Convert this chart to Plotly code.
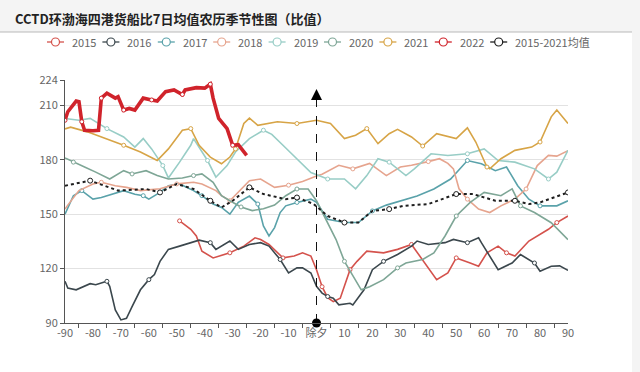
import plotly.graph_objects as go

# ---------------- data (lunar-day offset vs. ratio) ----------------
TITLE = "CCTD环渤海四港货船比7日均值农历季节性图（比值）"
SERIES_NAMES = ["2015", "2016", "2017", "2018", "2019", "2020", "2021", "2022", "2015-2021均值"]

x2015 = [-49, -45, -43, -41, -37, -31, -26, -22, -20, -17, -12, -8, -5, -2, 0, 2, 4, 6, 8.5, 10, 12, 14.5,
         18, 24, 29, 34, 37, 41, 43, 47, 50, 55, 58, 61, 65, 68, 71, 76, 80, 83, 86, 90]
y2015 = [146.3, 141.7, 138, 129.6, 125.9, 128.7, 132.4, 137, 136, 133.3, 125.9, 126.9, 128.7, 126.9, 119.4,
         110, 104, 101.8, 103.7, 110.2, 119.4, 124, 129.6, 128.7, 130.6, 133.3, 126.9, 118.5, 113.9, 117.6,
         125.9, 123.1, 121.3, 128.7, 132.4, 128.7, 126.9, 135.2, 138.9, 141.7, 145.4, 149]

x2016 = [-90, -89, -86, -81, -79, -75, -74, -72, -70, -68, -66, -63, -60, -58, -56, -53, -49, -45, -42, -38,
         -36, -31, -28, -24, -20, -17, -13, -10, -7, -5, -2, 0, 2, 4, 6, 8, 12, 13, 17, 20, 24, 29, 34, 36,
         40, 46, 49, 54, 58, 59, 62, 65, 70, 73, 78, 80, 84, 87, 90]
y2016 = [113, 109.3, 108.3, 111.7, 111.1, 113, 110.2, 97.2, 91.7, 92.6, 99, 108.3, 113.9, 116.7, 124, 130.6,
         132.4, 134.3, 135.7, 134.3, 130.6, 135.2, 130.6, 133.3, 134.3, 132.4, 125, 117.6, 120.4, 120.4,
         117.6, 110.2, 106.5, 104.6, 103.7, 100, 100.9, 100, 108.3, 119.4, 124, 127.8, 132.4, 135.2, 133.3,
         134.3, 136.1, 134.3, 137, 134.3, 126.9, 119.4, 123.1, 127.8, 123.1, 118.5, 121.3, 121.5, 119]

x2017 = [-90, -87, -84, -80, -77, -73, -69, -65, -62, -60, -56, -53, -49, -44, -41, -37, -34, -31, -28, -24,
         -21, -19, -17, -15, -13, -11, -7, -2, 0, 4, 10, 15, 20, 25, 30, 36, 42, 48, 54, 59, 64, 68, 72, 76,
         80, 86, 90]
y2017 = [150, 160.2, 163, 158.3, 159.2, 161.1, 163, 161, 160.2, 158.3, 162, 165.7, 166.7, 163, 160.2, 155.6,
         153.7, 150, 156.5, 160, 155.6, 143.5, 138, 142.6, 150.9, 154.6, 156.5, 158.3, 156.5, 147.2, 145.4,
         145.4, 151.8, 155, 157.4, 160, 163.9, 169.4, 179.6, 177.8, 174, 176, 165.7, 158.3, 154.6, 154.6, 157.4]

x2018 = [-90, -89, -85, -80, -77, -72, -68, -63, -56, -50, -44, -41, -36, -34, -31, -27, -24, -20, -15, -10,
         -5, 0, 2, 8, 13, 19, 25, 30, 34, 40, 44, 47, 49, 51, 54, 58, 62, 66, 71, 75, 79, 83, 86, 90]
y2018 = [152.8, 155, 163, 166.7, 167.6, 165.7, 164.8, 163, 164, 166.7, 167.6, 166.7, 163, 160.2, 157.4, 164,
         168.5, 169.4, 164.8, 166, 168, 171, 172, 177, 175, 178, 171.3, 176, 177, 179, 180.6, 178, 175, 164,
         158.3, 152.8, 150.9, 154.6, 158.3, 163.9, 176.8, 182.4, 182, 185]

x2019 = [-90, -85, -81, -75, -69, -65, -62, -59, -55, -53, -49, -45, -44, -39, -36, -32, -29, -24, -19, -16,
         -12, -7, -2, 4, 10, 14, 18, 22, 26, 32, 35, 41, 47, 54, 60, 65, 71, 78, 83, 86, 90]
y2019 = [202.8, 201.8, 202.8, 197.2, 192.6, 187, 191.7, 186, 176.8, 170, 178.7, 188, 191.7, 179.6, 170.4,
         176.8, 184.3, 191.7, 196.3, 194, 188, 180.6, 173, 169.4, 169.4, 164, 171.3, 180.6, 178.7, 171.3, 175,
         183.3, 182.4, 183.3, 186, 179.6, 178.7, 175, 169.4, 173.2, 185.2]

x2020 = [-90, -87, -83, -79, -74, -69, -66, -61, -57, -53, -48, -44, -41, -37, -34, -31, -27, -23, -19, -15,
         -11, -7, -3, 0, 4, 7, 10, 13, 16, 19, 24, 29, 32, 38, 42, 46, 50, 55, 60, 66, 70, 73, 78, 84, 90]
y2020 = [181, 178.7, 176, 173.2, 169.4, 174, 172.2, 174, 171.3, 169.4, 170, 171.3, 172.2, 167.6, 160.2, 157.4,
         154, 152, 153, 155, 160.2, 163.9, 163.9, 157.4, 145.4, 136, 124, 116, 108.3, 110, 113.9, 120.4,
         123.1, 125, 128.7, 138, 149, 156.5, 162, 160.2, 164, 154.6, 150.9, 145.3, 136]

x2021 = [-90, -88, -82, -77, -69, -63, -57, -53, -48, -45, -42, -38, -34, -31, -29, -26, -24, -21, -14, -7, 0,
         5, 10, 14, 18, 22, 26, 29, 34, 38, 43, 50, 54, 57, 61, 62, 66, 71, 77, 80, 84, 86, 90]
y2021 = [197, 198, 195.4, 192.6, 188, 184.3, 179.6, 186, 196.3, 197.2, 188, 181.5, 177.8, 181.5, 186, 200,
         203, 199, 201, 200, 201.8, 200, 191.7, 193.5, 197.2, 188.9, 194.4, 196.8, 192.6, 187.6, 194.4, 191.7,
         197.6, 189.8, 176, 175, 180.6, 185.2, 187, 189.8, 203.7, 207.4, 200]

x2022 = [-90, -89, -86, -85, -84, -83, -80, -78, -77, -75, -72, -71, -69, -67, -65, -62, -59, -57, -54, -51,
         -48, -47, -43, -40, -38, -37, -35, -32, -30, -28, -25]
y2022 = [201.8, 206.5, 212.4, 212, 201, 196.3, 196, 196.3, 214, 216.7, 214, 214.8, 207.4, 208.3, 207.4, 214,
         213, 212.4, 217.6, 218.5, 216, 218.5, 219.8, 219.5, 221.7, 214, 202.8, 197.2, 188, 188.3, 182.4]

x_avg = [-90, -81, -71, -61, -56, -50, -44, -38, -34, -30, -24, -19, -11, -7, -1, 4, 10, 15, 20, 26, 31, 40,
         50, 56, 64, 71, 76, 80, 90]
y_avg = [165.7, 168.5, 163, 163.9, 162, 166.7, 163.9, 157.4, 153.7, 157.4, 164.8, 161.1, 158.3, 159.2, 155.6,
         149, 145.4, 145.4, 151.8, 152.8, 154.6, 155.6, 161.1, 161.1, 157.4, 157.4, 155.6, 156.5, 162]

x_tickvals = list(range(-90, 100, 10))
x_ticktext = ["除夕" if v == 0 else str(v) for v in x_tickvals]
y_tickvals = [90, 120, 150, 180, 210, 224]
SPRING_FESTIVAL = 0
ARROW_BOTTOM = 90
ARROW_TOP = 219

# ---------------- style ----------------
W, H = 640, 372
L, R, T, B = 65, 72, 80, 49
PW, PH = W - L - R, H - T - B
FONT = "Noto Sans CJK SC, Noto Sans, sans-serif"

colors = {
    "2015": "#d4524c", "2016": "#3b474d", "2017": "#5aa2aa", "2018": "#e6a48e", "2019": "#98cdc6",
    "2020": "#7ea696", "2021": "#d7a446", "2022": "#d0232b", "2015-2021均值": "#1e1e1e",
}

def px_x(p):
    return (p - L) / PW

def px_y(p):
    return (H - B - p) / PH

fig = go.Figure()

data = [
    ("2015", x2015, y2015), ("2016", x2016, y2016), ("2017", x2017, y2017), ("2018", x2018, y2018),
    ("2019", x2019, y2019), ("2020", x2020, y2020), ("2021", x2021, y2021),
]
for name, xs, ys in data:
    fig.add_trace(go.Scatter(
        x=xs, y=ys, name=name, mode="lines+markers", showlegend=False,
        line=dict(color=colors[name], width=1.6),
        marker=dict(symbol="circle", size=4, color="white", maxdisplayed=9,
                    line=dict(color=colors[name], width=1)),
    ))

fig.add_trace(go.Scatter(
    x=x_avg, y=y_avg, name="2015-2021均值", mode="lines+markers", showlegend=False,
    line=dict(color=colors["2015-2021均值"], width=2, dash="dot"),
    marker=dict(symbol="circle", size=5, color="white", maxdisplayed=12,
                line=dict(color=colors["2015-2021均值"], width=1)),
))

fig.add_trace(go.Scatter(
    x=x2022, y=y2022, name="2022", mode="lines+markers", showlegend=False,
    line=dict(color=colors["2022"], width=3.6),
    marker=dict(symbol="circle", size=4, color="white", maxdisplayed=8,
                line=dict(color=colors["2022"], width=1)),
))

# spring-festival arrow
fig.add_trace(go.Scatter(
    x=[SPRING_FESTIVAL, SPRING_FESTIVAL], y=[ARROW_BOTTOM, ARROW_TOP - 2], mode="lines",
    line=dict(color="#111", width=1, dash="dash"), showlegend=False, hoverinfo="skip",
))
fig.add_trace(go.Scatter(
    x=[SPRING_FESTIVAL], y=[ARROW_BOTTOM], mode="markers", showlegend=False, hoverinfo="skip",
    marker=dict(symbol="circle", size=9, color="#000"), cliponaxis=False,
))
fig.add_trace(go.Scatter(
    x=[SPRING_FESTIVAL], y=[ARROW_TOP], mode="markers", showlegend=False, hoverinfo="skip",
    marker=dict(symbol="arrow-up", size=11, color="#000"), cliponaxis=False,
))

shapes = [
    # white card
    dict(type="rect", xref="paper", yref="paper", x0=px_x(0), x1=px_x(632), y0=px_y(372), y1=px_y(32),
         fillcolor="white", line=dict(width=0), layer="below"),
    # divider under title
    dict(type="line", xref="paper", yref="paper", x0=px_x(0), x1=px_x(632), y0=px_y(32), y1=px_y(32),
         line=dict(color="#b9b9b9", width=1)),
]
annotations = [
    dict(text=f"<b>{TITLE}</b>", xref="paper", yref="paper", x=px_x(13), y=px_y(18), xanchor="left",
         yanchor="middle", showarrow=False, font=dict(family=FONT, size=13, color="#222")),
]

# custom compact legend
leg_y = 42
for i, name in enumerate(SERIES_NAMES):
    x0 = 47 + i * 55.4
    c = colors[name]
    shapes.append(dict(type="line", xref="paper", yref="paper", x0=px_x(x0), x1=px_x(x0 + 17),
                       y0=px_y(leg_y), y1=px_y(leg_y), line=dict(color=c, width=1.3)))
    shapes.append(dict(type="circle", xref="paper", yref="paper", x0=px_x(x0 + 4.5), x1=px_x(x0 + 12.5),
                       y0=px_y(leg_y + 4), y1=px_y(leg_y - 4), fillcolor="white", line=dict(color=c, width=1.2)))
    annotations.append(dict(text=name, xref="paper", yref="paper", x=px_x(x0 + 23), y=px_y(leg_y),
                            xanchor="left", yanchor="middle", showarrow=False,
                            font=dict(family=FONT, size=11, color="#666")))

fig.update_layout(
    width=W, height=H, margin=dict(l=L, r=R, t=T, b=B),
    paper_bgcolor="#f4f4f4", plot_bgcolor="white",
    font=dict(family=FONT, size=11, color="#666"),
    shapes=shapes, annotations=annotations, showlegend=False,
    xaxis=dict(range=[-90, 90], tickvals=x_tickvals, ticktext=x_ticktext, ticks="", showgrid=False,
               zeroline=False, showline=True, linecolor="#555", linewidth=1,
               tickfont=dict(family=FONT, size=11, color="#666"),
               minor=dict(tickvals=list(range(-85, 90, 10)), ticks="outside", ticklen=4,
                          tickcolor="#555", tickwidth=1, showgrid=False)),
    yaxis=dict(range=[90, 224], tickvals=y_tickvals, ticks="outside", ticklen=4, tickcolor="#555",
               showgrid=True, gridcolor="#e2e2e2", gridwidth=1, zeroline=False, showline=True,
               linecolor="#555", linewidth=1, tickfont=dict(family=FONT, size=11, color="#666")),
)

fig.write_html("out.html", config={"displayModeBar": False},
               post_script="document.body.style.margin='0px';document.body.style.overflow='hidden';")
